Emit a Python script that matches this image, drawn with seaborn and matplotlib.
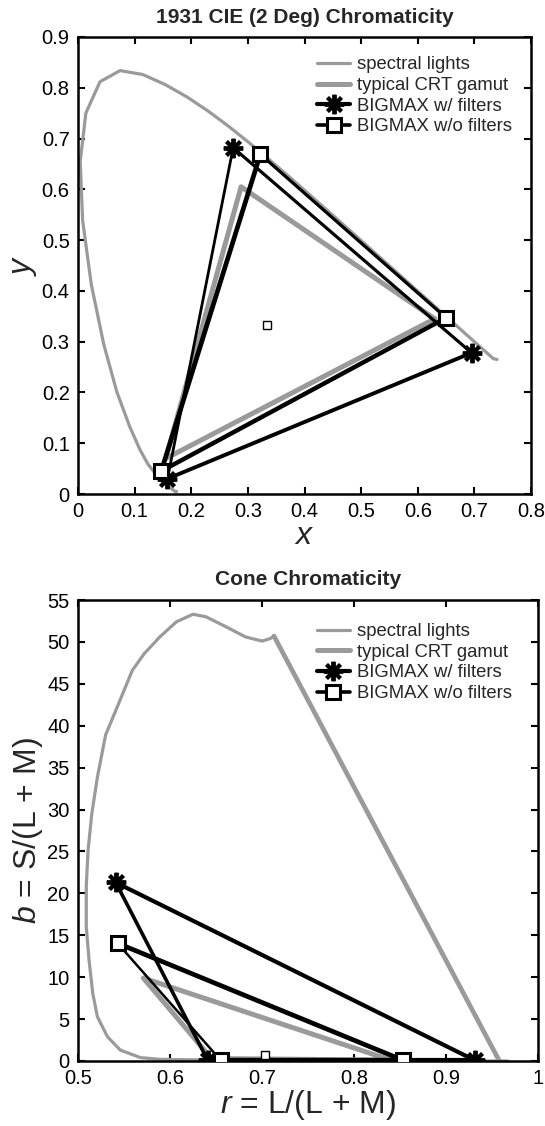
import numpy as np
import pandas as pd
import matplotlib
matplotlib.use("Agg")
import matplotlib.pyplot as plt
from matplotlib.lines import Line2D
import seaborn as sns

# ---------------- data: CIE 1931 xy ----------------
locus_x = [0.1741, 0.1714, 0.1644, 0.1566, 0.1440, 0.1241, 0.1096, 0.0913, 0.0687,
           0.0454, 0.0235, 0.0082, 0.0039, 0.0139, 0.0389, 0.0743, 0.1142, 0.1547,
           0.1929, 0.2296, 0.2658, 0.3016, 0.3373, 0.3731, 0.4087, 0.4441, 0.4788,
           0.5125, 0.5448, 0.5752, 0.6029, 0.6270, 0.6658, 0.6915, 0.7079, 0.7190,
           0.7260, 0.7300, 0.7334, 0.7400]
locus_y = [0.0050, 0.0051, 0.0109, 0.0177, 0.0297, 0.0578, 0.0868, 0.1327, 0.2007,
           0.2950, 0.4127, 0.5384, 0.6548, 0.7502, 0.8120, 0.8338, 0.8262, 0.8059,
           0.7816, 0.7543, 0.7243, 0.6923, 0.6589, 0.6245, 0.5896, 0.5547, 0.5202,
           0.4866, 0.4544, 0.4242, 0.3965, 0.3725, 0.3340, 0.3083, 0.2920, 0.2809,
           0.2740, 0.2700, 0.2666, 0.2650]
# vertices in order R, G, B
crt_x = [0.630, 0.288, 0.155]
crt_y = [0.345, 0.605, 0.070]
filt_x = [0.695, 0.274, 0.158]
filt_y = [0.278, 0.682, 0.030]
nofilt_x = [0.650, 0.322, 0.147]
nofilt_y = [0.347, 0.669, 0.045]
white_xy = [0.333, 0.333]

# ---------------- data: cone chromaticity (MacLeod-Boynton) ----------------
locus_r = [0.713, 0.709, 0.700, 0.682, 0.661, 0.639, 0.625, 0.607, 0.589, 0.572,
           0.559, 0.544, 0.530, 0.521, 0.515, 0.511, 0.509, 0.509, 0.512, 0.516,
           0.521, 0.532, 0.546, 0.568, 0.589, 0.650, 0.750, 0.850, 0.967]
locus_b = [50.7, 50.4, 50.1, 50.6, 51.8, 53.0, 53.3, 52.4, 50.6, 48.6,
           46.6, 42.6, 38.9, 33.8, 29.5, 25.2, 20.9, 16.0, 12.05, 8.1,
           5.3, 2.9, 1.3, 0.4, 0.2, 0.1, 0.05, 0.03, 0.0]
purple_r = [0.713, 0.958]
purple_b = [50.7, 0.0]
crt_r = [0.840, 0.645, 0.571]
crt_b = [0.1, 0.3, 9.9]
filt_r = [0.931, 0.641, 0.541]
filt_b = [0.1, 0.1, 21.3]
nofilt_r = [0.853, 0.655, 0.543]
nofilt_b = [0.1, 0.1, 14.05]
white_rb = [0.703, 0.75]

labels = ["spectral lights", "typical CRT gamut", "BIGMAX w/ filters", "BIGMAX w/o filters"]

# ---------------- style ----------------
sns.set_style("ticks")
plt.rcParams["font.family"] = ["Liberation Sans", "DejaVu Sans"]
plt.rcParams["mathtext.fontset"] = "custom"
plt.rcParams["mathtext.it"] = "Liberation Sans:italic"
plt.rcParams["mathtext.rm"] = "Liberation Sans"

GRAY = "#9a9a9a"
STAR = (8, 2, 0)
STAR_KW = dict(marker=STAR, markersize=14, markeredgewidth=2.8, markeredgecolor="black",
               markerfacecolor="black")
SQ_KW = dict(marker="s", markersize=10.5, markeredgewidth=2.2, markeredgecolor="black",
             markerfacecolor="white")

fig = plt.figure(figsize=(5.45, 11.26), dpi=100)
ax1 = fig.add_axes([78 / 545, 1 - 494 / 1126, 453 / 545, 457 / 1126])
ax2 = fig.add_axes([78 / 545, 1 - 1061 / 1126, 460 / 545, 461 / 1126])


def closed(a):
    return list(a) + [a[0]]


def triangle(ax, xs, ys, widths, mkw):
    # edges R-G, G-B, B-R
    for i, w in enumerate(widths):
        j = (i + 1) % 3
        sns.lineplot(x=[xs[i], xs[j]], y=[ys[i], ys[j]], sort=False, estimator=None,
                     color="black", lw=w, ax=ax, solid_capstyle="round")
    sns.lineplot(x=xs, y=ys, sort=False, estimator=None, linestyle="", ax=ax,
                 zorder=5, **mkw)


def draw(ax, lx, ly, cx, cy, fx, fy, nx, ny, wp, fw, nw, legx, legy, extra=None):
    sns.lineplot(x=lx, y=ly, sort=False, estimator=None, color=GRAY, lw=2.3, ax=ax)
    if extra is not None:
        sns.lineplot(x=extra[0], y=extra[1], sort=False, estimator=None, color=GRAY,
                     lw=3.4, ax=ax)
    sns.lineplot(x=closed(cx), y=closed(cy), sort=False, estimator=None, color=GRAY,
                 lw=3.6, ax=ax)
    triangle(ax, fx, fy, fw, STAR_KW)
    triangle(ax, nx, ny, nw, SQ_KW)
    sns.lineplot(x=[wp[0]], y=[wp[1]], marker="s", markersize=5.5, markerfacecolor="white",
                 markeredgecolor="black", markeredgewidth=1.0, linestyle="", ax=ax)
    handles = [
        Line2D([], [], color=GRAY, lw=2.3),
        Line2D([], [], color=GRAY, lw=3.6),
        Line2D([], [], color="black", lw=3.0, **STAR_KW),
        Line2D([], [], color="black", lw=2.6, **SQ_KW),
    ]
    ax.legend(handles, labels, loc="upper left", bbox_to_anchor=(legx, legy),
              frameon=False, fontsize=13.3, handlelength=1.75,
              handletextpad=0.38, labelspacing=0.2, borderpad=0.2)
    for s in ax.spines.values():
        s.set_linewidth(1.8)
        s.set_color("black")
        s.set_visible(True)
    ax.tick_params(direction="in", length=5, width=1.5, top=True, right=True,
                   labelsize=14.5, pad=6, colors="black")


draw(ax1, locus_x, locus_y, crt_x, crt_y, filt_x, filt_y, nofilt_x, nofilt_y, white_xy,
     fw=[2.3, 2.0, 2.8], nw=[2.3, 3.4, 3.2], legx=0.5, legy=0.986)
ax1.set_xlim(0, 0.8)
ax1.set_ylim(0, 0.9)
ax1.set_xticks(np.arange(0, 0.81, 0.1))
ax1.set_xticklabels(["0"] + [f"{v:.1f}" for v in np.arange(0.1, 0.81, 0.1)])
ax1.set_yticks(np.arange(0, 0.91, 0.1))
ax1.set_yticklabels(["0"] + [f"{v:.1f}" for v in np.arange(0.1, 0.91, 0.1)])
ax1.set_title("1931 CIE (2 Deg) Chromaticity", fontsize=15, fontweight="bold", pad=10)
ax1.set_xlabel("$x$", fontsize=23, labelpad=0)
ax1.set_ylabel("$y$", fontsize=23, labelpad=2)

draw(ax2, locus_r, locus_b, crt_r, crt_b, filt_r, filt_b, nofilt_r, nofilt_b, white_rb,
     fw=[3.0, 2.6, 3.0], nw=[3.0, 1.8, 3.4], legx=0.492, legy=0.978,
     extra=(purple_r, purple_b))
ax2.set_xlim(0.5, 1.0)
ax2.set_ylim(0, 55)
ax2.set_xticks([0.5, 0.6, 0.7, 0.8, 0.9, 1.0])
ax2.set_xticklabels(["0.5", "0.6", "0.7", "0.8", "0.9", "1"])
ax2.set_yticks(np.arange(0, 56, 5))
ax2.set_yticklabels([str(v) for v in range(0, 56, 5)])
ax2.set_title("Cone Chromaticity", fontsize=15, fontweight="bold", pad=11)
ax2.set_xlabel("$r$ = L/(L + M)", fontsize=23, labelpad=0)
ax2.set_ylabel("$b$ = S/(L + M)", fontsize=23, labelpad=2)

fig.savefig("out.png", dpi=100)
